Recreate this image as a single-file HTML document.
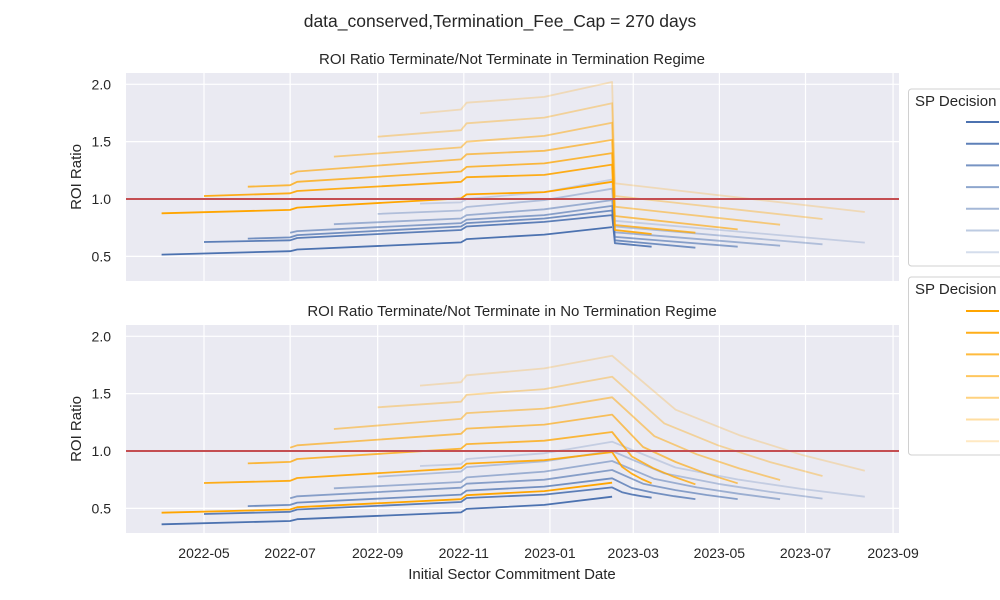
<!DOCTYPE html>
<html><head><meta charset="utf-8"><style>
html,body{margin:0;padding:0;background:#fff;width:1000px;height:600px;overflow:hidden}
svg text{font-family:"Liberation Sans",Arial,sans-serif;fill:#262626}
</style></head><body>
<svg id="chart" width="1000" height="600" xmlns="http://www.w3.org/2000/svg"></svg>
<script>
// ---- data ----
const startDates = ['2022-04-01','2022-05-01','2022-06-01','2022-07-01','2022-08-01','2022-09-01','2022-10-01'];
const endDates = ['2023-02-14','2023-03-14','2023-04-14','2023-05-14','2023-06-13','2023-07-13','2023-08-12'];
const growthDates = ['2022-07-01','2022-07-06','2022-10-30','2022-11-03','2022-12-28','2023-02-14'];
const postDropDate = '2023-02-16';
const yTicks = [0.5,1.0,1.5,2.0];
const xTickDates = ['2022-05-01','2022-07-01','2022-09-01','2022-11-01','2023-01-01','2023-03-01','2023-05-01','2023-07-01','2023-09-01'];
const xTickLabels = ['2022-05','2022-07','2022-09','2022-11','2023-01','2023-03','2023-05','2023-07','2023-09'];
// values: [start, 07-01, 07-06, 10-30, 11-03, 12-28, 02-14] (null where before start)
const topBlue = [
 [0.515,0.545,0.56,0.622,0.65,0.69,0.755],
 [0.625,0.64,0.66,0.73,0.76,0.80,0.86],
 [0.655,0.665,0.685,0.76,0.79,0.83,0.90],
 [0.705,null,0.72,0.79,0.82,0.86,0.94],
 [0.78,null,null,0.83,0.86,0.91,0.99],
 [0.87,null,null,0.90,0.93,0.99,1.09],
 [0.96,null,null,0.97,1.00,1.06,1.17]];
const topOrange = [
 [0.875,0.905,0.925,1.005,1.04,1.06,1.15],
 [1.026,1.05,1.07,1.15,1.19,1.21,1.30],
 [1.107,1.12,1.15,1.24,1.28,1.31,1.40],
 [1.215,null,1.24,1.345,1.39,1.42,1.515],
 [1.37,null,null,1.45,1.50,1.55,1.665],
 [1.543,null,null,1.60,1.66,1.71,1.835],
 [1.747,null,null,1.78,1.84,1.89,2.02]];
// top tails: [after drop, end]
const topBlueTail = [null,[0.615,0.584],[0.64,0.575],[0.67,0.584],[0.71,0.593],[0.76,0.605],[0.81,0.62]];
const topOrangeTail = [null,[0.73,0.695],[0.773,0.706],[0.852,0.735],[0.933,0.776],[1.026,0.826],[1.137,0.887]];
const botBlue = [
 [0.361,0.39,0.405,0.465,0.495,0.53,0.602],
 [0.451,0.47,0.49,0.555,0.59,0.62,0.683],
 [0.52,0.53,0.55,0.62,0.655,0.69,0.762],
 [0.588,null,0.605,0.68,0.715,0.75,0.834],
 [0.675,null,null,0.73,0.77,0.82,0.913],
 [0.776,null,null,0.82,0.86,0.91,1.0],
 [0.869,null,null,0.885,0.93,0.98,1.081]];
const botOrange = [
 [0.462,0.49,0.51,0.58,0.615,0.65,0.724],
 [0.721,0.74,0.765,0.85,0.89,0.92,0.99],
 [0.892,0.905,0.93,1.02,1.06,1.09,1.166],
 [1.029,null,1.05,1.15,1.195,1.23,1.317],
 [1.192,null,null,1.28,1.33,1.37,1.468],
 [1.381,null,null,1.43,1.49,1.54,1.648],
 [1.57,null,null,1.60,1.66,1.72,1.831]];
// bottom tail dates (3 interior points) and values [q1,q2,q3,end]
const botTailDates = [null,
 ['2023-02-21','2023-02-28','2023-03-07'],
 ['2023-02-28','2023-03-15','2023-03-30'],
 ['2023-03-08','2023-03-31','2023-04-22'],
 ['2023-03-16','2023-04-15','2023-05-15'],
 ['2023-03-23','2023-04-30','2023-06-06'],
 ['2023-03-31','2023-05-15','2023-06-28']];
const botBlueTail = [null,[0.641,0.621,0.606,0.593],[0.677,0.637,0.606,0.581],[0.715,0.659,0.616,0.581],[0.757,0.683,0.627,0.58],[0.805,0.714,0.643,0.585],[0.856,0.75,0.67,0.602]];
const botOrangeTail = [null,[0.862,0.802,0.756,0.718],[0.952,0.851,0.774,0.71],[1.035,0.904,0.802,0.718],[1.129,0.971,0.848,0.747],[1.241,1.05,0.903,0.782],[1.36,1.139,0.968,0.828]];

// ---- drawing ----
const NS='http://www.w3.org/2000/svg';
const svg=document.getElementById('chart');
const X0=126,X1=899;
const ref=Date.UTC(2022,4,1);
function days(d){const p=d.split('-');return (Date.UTC(+p[0],+p[1]-1,+p[2])-ref)/86400000;}
function xs(d){return 204+days(d)*1.412;}
const panels=[{top:73,bot:281,y1:199},{top:325,bot:533,y1:451}];
function ys(p,v){return panels[p].y1-(v-1)*114.7;}
function el(tag,attrs,parent){const e=document.createElementNS(NS,tag);for(const k in attrs)e.setAttribute(k,attrs[k]);(parent||svg).appendChild(e);return e;}
function txt(s,attrs,parent){const e=el('text',attrs,parent);e.textContent=s;return e;}
const opac=[1,0.9,0.76,0.63,0.5,0.37,0.24];
const BLUE='76,114,176',ORG='255,165,0';

const title=txt('data_conserved,Termination_Fee_Cap = 270 days',{x:500,y:27,'font-size':17.5,'text-anchor':'middle'});



const subTitles=['ROI Ratio Terminate/Not Terminate in Termination Regime','ROI Ratio Terminate/Not Terminate in No Termination Regime'];
panels.forEach((P,pi)=>{
  const g=el('g',{});
  
  
  const bg=el('rect',{x:X0,y:P.top,width:X1-X0,height:P.bot-P.top,fill:'#eaeaf2'},g);
  
  
  xTickDates.forEach((d,i)=>{
    const x=xs(d);
    const gl=el('line',{x1:x,x2:x,y1:P.top,y2:P.bot,stroke:'#fff','stroke-width':1.2},g);
    
    
    if(pi===1){const t=txt(xTickLabels[i],{x:x,y:558,'font-size':14,'text-anchor':'middle'},g);
      
      }
  });
  yTicks.forEach(v=>{
    const y=ys(pi,v);
    const gl=el('line',{x1:X0,x2:X1,y1:y,y2:y,stroke:'#fff','stroke-width':1.2},g);
    
    
    const t=txt(v.toFixed(1),{x:111,y:y+5,'font-size':14,'text-anchor':'end'},g);
    
    
  });
  const st=txt(subTitles[pi],{x:512,y:P.top-9,'font-size':15,'text-anchor':'middle'},g);
  
  
  const yl=txt('ROI Ratio',{x:0,y:0,'font-size':15,'text-anchor':'middle',transform:`translate(81,${(P.top+P.bot)/2}) rotate(-90)`},g);
  
  

  const grow=pi?[botBlue,botOrange]:[topBlue,topOrange];
  const colors=[BLUE,ORG];
  [0,1].forEach(ci=>{
    const vals=grow[ci];
    for(let k=vals.length-1;k>=0;k--){
      const row=vals[k];
      const pts=[[startDates[k],row[0]]];
      growthDates.forEach((d,j)=>{if(row[j+1]!==null)pts.push([d,row[j+1]]);});
      if(k>0){
        if(pi===0){const t=(ci?topOrangeTail:topBlueTail)[k];pts.push([postDropDate,t[0]]);pts.push([endDates[k],t[1]]);}
        else{const t=(ci?botOrangeTail:botBlueTail)[k];botTailDates[k].forEach((d,j)=>pts.push([d,t[j]]));pts.push([endDates[k],t[3]]);}
      }
      const dstr=pts.map((p,i)=>(i?'L':'M')+xs(p[0]).toFixed(1)+','+ys(pi,p[1]).toFixed(1)).join(' ');
      const path=el('path',{d:dstr,fill:'none',stroke:`rgba(${colors[ci]},${opac[k]})`,'stroke-width':1.8,'stroke-linejoin':'round'},g);
      
      
    }
  });
  const rl=el('line',{x1:X0,x2:X1,y1:ys(pi,1),y2:ys(pi,1),stroke:'#c44e52','stroke-width':2},g);
  
  
});
const xl=txt('Initial Sector Commitment Date',{x:512,y:579,'font-size':15,'text-anchor':'middle'});



// legends
[[89,266,BLUE,122],[277,455,ORG,311]].forEach((L,li)=>{
  const g=el('g',{});
  
  
  el('rect',{x:908.5,y:L[0],width:100,height:L[1]-L[0],rx:3,fill:'#fff',stroke:'#d0d0d0','stroke-width':1},g);
  const t=txt('SP Decision',{x:915,y:L[0]+17,'font-size':15},g);
  
  
  for(let k=0;k<7;k++){
    const y=L[3]+k*21.7;
    const ln=el('line',{x1:966,x2:999,y1:y,y2:y,stroke:`rgba(${L[2]},${opac[k]})`,'stroke-width':2},g);
    
    
  }
});
</script>
</body></html>
